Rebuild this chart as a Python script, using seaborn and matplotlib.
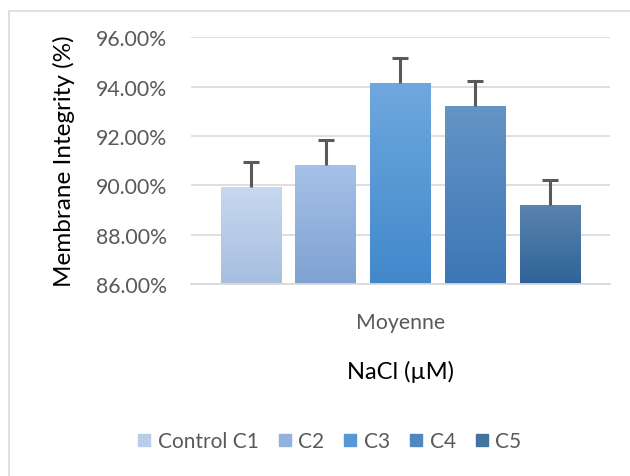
import matplotlib
matplotlib.use("Agg")
import matplotlib.pyplot as plt
from matplotlib.colors import LinearSegmentedColormap
from matplotlib.lines import Line2D
from matplotlib.patches import Rectangle
import numpy as np
import pandas as pd
import seaborn as sns

# Datos
grupo = ["Moyenne"]
condiciones = ["Control C1", "C2", "C3", "C4", "C5"]
medias = [89.95, 90.82, 94.15, 93.22, 89.20]
errores = [1.0, 1.0, 1.0, 1.0, 1.0]

# Colores (arriba, abajo) para el degradado de cada barra
col_arriba = ["#c7d8ef", "#a5c1e7", "#6fa8de", "#6594c6", "#5a83ad"]
col_abajo = ["#a7bedf", "#7fa2d2", "#4188cb", "#3b77b5", "#2f6399"]
col_medio = ["#b9cde9", "#92b2de", "#5698d6", "#4f87c0", "#43739f"]

df = pd.DataFrame({"grupo": grupo * len(condiciones),
                   "condicion": condiciones,
                   "valor": medias})

sns.set_style("white")
plt.rcParams['font.family'] = ['Lato', 'DejaVu Sans']

fig = plt.figure(figsize=(6.3, 4.77), dpi=100)
ax = fig.add_axes([0.303, 0.4025, 0.665, 0.5175])

sns.barplot(data=df, x="grupo", y="valor", hue="condicion", palette=col_medio,
            width=0.892, gap=0.19, errorbar=None, legend=False, ax=ax)

ax.set_ylim(86, 96)
ax.set_xlim(-0.5, 0.5)

# Degradado vertical dentro de cada barra + barras de error (solo hacia arriba)
barras = [p for p in ax.patches][:len(condiciones)]
for i, barra in enumerate(barras):
    x0 = barra.get_x()
    w = barra.get_width()
    h = barra.get_height()
    cmap = LinearSegmentedColormap.from_list("g%d" % i, [col_abajo[i], col_arriba[i]])
    grad = np.linspace(0, 1, 256).reshape(-1, 1)
    img = ax.imshow(grad, cmap=cmap, origin="lower", aspect="auto",
                    extent=[x0, x0 + w, 86, h], zorder=barra.get_zorder() + 0.1)
    img.set_clip_path(barra)
    barra.set_edgecolor("none")
    eb = ax.errorbar(x0 + w / 2, h, yerr=[[0], [errores[i]]], fmt="none",
                     ecolor="#595959", elinewidth=2.2, capsize=5.5, capthick=2.2, zorder=5)
    eb[1][0].set_visible(False)

ax.set_xlim(-0.5, 0.5)
ax.set_ylim(86, 96)

# Ejes y rejilla
ax.set_yticks(np.arange(86, 96.1, 2))
ax.set_yticklabels([f"{v:.2f}%" for v in np.arange(86, 96.1, 2)])
ax.yaxis.grid(True, color="#d9d9d9", linewidth=1.2)
ax.set_axisbelow(True)
for lado in ["top", "right", "left"]:
    ax.spines[lado].set_visible(False)
ax.spines["bottom"].set_color("#d9d9d9")
ax.spines["bottom"].set_linewidth(1.3)
ax.tick_params(axis="both", length=0, labelsize=15.3, colors="#595959")
ax.tick_params(axis="y", pad=17)
ax.tick_params(axis="x", pad=20)

ax.set_ylabel("Membrane Integrity (%)", fontsize=17.5, color="black", labelpad=15)
ax.set_xlabel("NaCl (µM)", fontsize=17, color="black", labelpad=20)

# Leyenda
handles = [Line2D([0], [0], marker="s", linestyle="none", markersize=8.5,
                  markerfacecolor=c, markeredgecolor=c) for c in col_medio]
fig.legend(handles, condiciones, loc="center", bbox_to_anchor=(0.52, 0.073),
           ncol=5, frameon=False, fontsize=15, labelcolor="#595959",
           handletextpad=0.15, columnspacing=0.75, handlelength=1.0)

# Marco del gráfico
fig.patches.append(Rectangle((9 / 630, -0.1), 1.2, 1.1 - 12 / 477,
                             transform=fig.transFigure, fill=False,
                             edgecolor="#d9d9d9", linewidth=1.2))

plt.savefig("out.png", dpi=100)
plt.close()
